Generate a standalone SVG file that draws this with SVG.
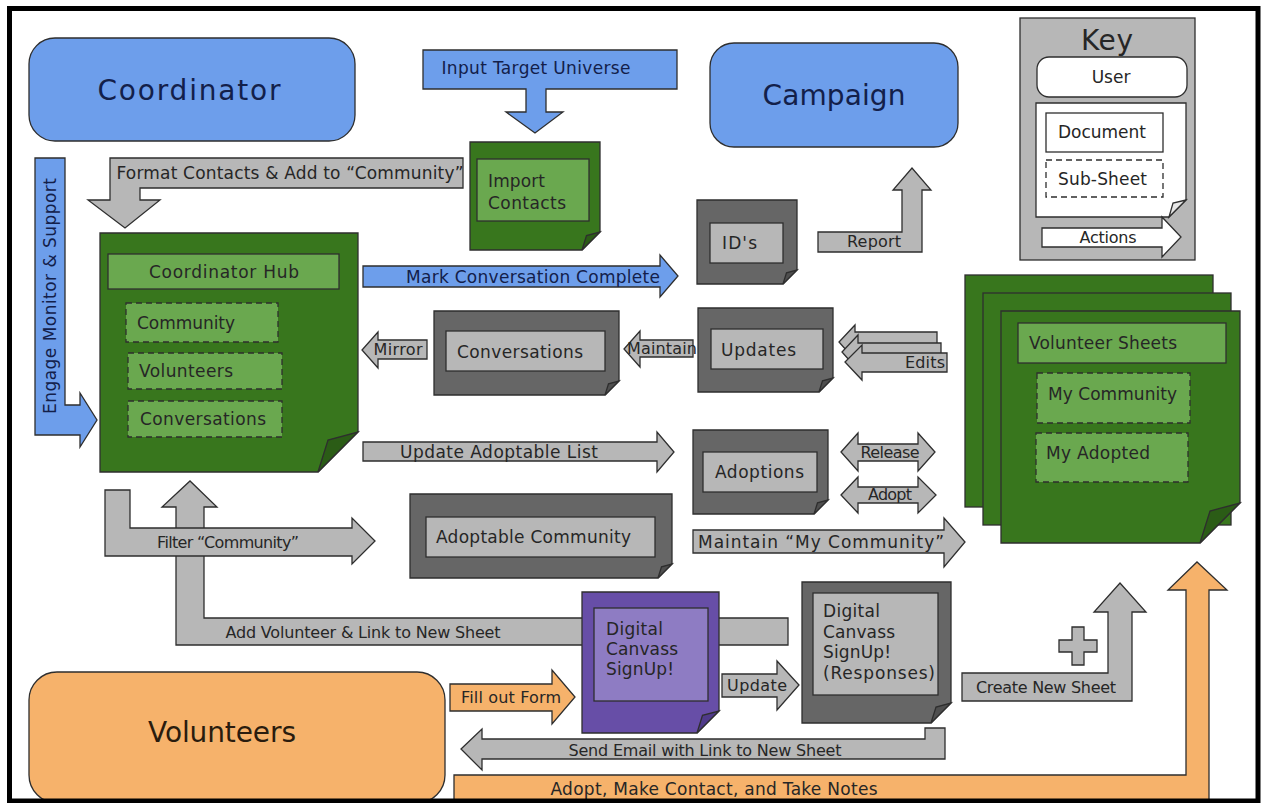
<svg xmlns="http://www.w3.org/2000/svg" width="1265" height="803" viewBox="0 0 1265 803">
  <style>
    .t { font-family: "DejaVu Sans", "Open Sans", sans-serif; fill: #262626; }
    .nv { fill: #13204a; }
    .big { font-size: 28px; }
    .lb { font-size: 17px; }
    .ar { font-size: 17px; }
    .sm { font-size: 16px; }
    .ln { stroke: #2e2e2e; stroke-width: 1.3; stroke-linejoin: miter; }
    .blue { fill: #6d9eeb; }
    .grey { fill: #b7b7b7; }
    .orange { fill: #f6b26b; }
    .dgrey { fill: #666666; }
    .fgrey { fill: #4f4f4f; }
    .dgreen { fill: #38761d; }
    .fgreen { fill: #2b5c16; }
    .lgreen { fill: #6aa84f; }
    .purple { fill: #674ea7; }
    .fpurple { fill: #4f3a8a; }
    .lpurple { fill: #8e7cc3; }
    .dash { stroke-dasharray: 6 4; }
  </style>

  <rect x="0" y="0" width="1265" height="803" fill="#ffffff"/>

  <!-- connectors (block arrows) -->
  <g id="connectors">
    <!-- Input Target Universe -->
    <g id="arrow-input-target">
      <polygon class="blue ln" points="423,50 677,50 677,89 546,89 546,112 563,112 535,133 506,112 526,112 526,89 423,89"/>
      <text class="t nv ar" x="536" y="74" text-anchor="middle" textLength="189">Input Target Universe</text>
    </g>
    <!-- Format Contacts -->
    <g id="arrow-format-contacts">
      <polygon class="grey ln" points="463,158 463,188 140,188 140,200 160,200 125,228 88,200 110,200 110,158"/>
      <text class="t ar" x="290" y="179" text-anchor="middle" textLength="347">Format Contacts  &amp; Add to “Community”</text>
    </g>
    <!-- Engage Monitor & Support -->
    <g id="arrow-engage">
      <polygon class="blue ln" points="35,158 65,158 65,405 80,405 80,393 97,420 80,447 80,435 35,435"/>
      <text class="t nv ar" transform="translate(56,296) rotate(-90)" text-anchor="middle" textLength="236">Engage Monitor &amp; Support</text>
    </g>
    <!-- Mark Conversation Complete -->
    <g id="arrow-mark-complete">
      <polygon class="blue ln" points="363,266 660,266 660,255 678,276 660,297 660,287 363,287"/>
      <text class="t nv lb" x="533" y="283" text-anchor="middle" textLength="254">Mark Conversation Complete</text>
    </g>
    <!-- Report -->
    <g id="arrow-report">
      <polygon class="grey ln" points="818,232 902,232 902,190 893,190 912,168 931,190 922,190 922,252 818,252"/>
      <text class="t sm" x="874" y="247" text-anchor="middle" textLength="54">Report</text>
    </g>
    <!-- Mirror -->
    <g id="arrow-mirror">
      <polygon class="grey ln" points="427,340 378,340 378,332 362,350 378,368 378,359 427,359"/>
      <text class="t sm" x="398" y="355" text-anchor="middle" textLength="49">Mirror</text>
    </g>
    <!-- Maintain -->
    <g id="arrow-maintain">
      <polygon class="grey ln" points="693,340 640,340 640,331 624,349 640,367 640,357 693,357"/>
      <text class="t sm" x="662" y="354" text-anchor="middle" textLength="70">Maintain</text>
    </g>
    <!-- Edits (stacked) -->
    <g id="arrow-edits">
      <polygon class="grey ln" points="937,332 855,332 855,325 839,342 855,360 855,351 937,351"/>
      <polygon class="grey ln" points="941,343 858,343 858,335 842,352 858,370 858,362 941,362"/>
      <polygon class="grey ln" points="947,353 862,353 862,345 845,362 862,380 862,372 947,372"/>
      <text class="t sm" x="925" y="368" text-anchor="middle" textLength="40">Edits</text>
    </g>
    <!-- Update Adoptable List -->
    <g id="arrow-update-adoptable">
      <polygon class="grey ln" points="363,442 657,442 657,432 674,452 657,472 657,461 363,461"/>
      <text class="t lb" x="499" y="458" text-anchor="middle" textLength="198">Update Adoptable List</text>
    </g>
    <!-- Release -->
    <g id="arrow-release">
      <polygon class="grey ln" points="841,452 858,433 858,444 918,444 918,433 935,452 918,471 918,461 858,461 858,471"/>
      <text class="t sm" x="890" y="458" text-anchor="middle" textLength="59">Release</text>
    </g>
    <!-- Adopt -->
    <g id="arrow-adopt">
      <polygon class="grey ln" points="841,495 858,477 858,487 918,487 918,477 936,495 918,513 918,503 858,503 858,513"/>
      <text class="t sm" x="890" y="500" text-anchor="middle" textLength="44">Adopt</text>
    </g>
    <!-- Maintain "My Community" -->
    <g id="arrow-maintain-my-community">
      <polygon class="grey ln" points="693,530 944,530 944,518 965,542 944,567 944,553 693,553"/>
      <text class="t ar" x="821" y="548" text-anchor="middle" textLength="246">Maintain “My Community”</text>
    </g>
    <!-- Add Volunteer & Link to New Sheet -->
    <g id="arrow-add-volunteer">
      <polygon class="grey ln" points="176,645 176,507 162,507 190,481 217,507 204,507 204,618 788,618 788,645"/>
      <text class="t sm" x="363" y="638" text-anchor="middle" textLength="275">Add Volunteer &amp; Link to New Sheet</text>
    </g>
    <!-- Filter "Community" -->
    <g id="arrow-filter">
      <polygon class="grey ln" points="105,490 130,490 130,528 352,528 352,518 375,541 352,564 352,556 105,556"/>
      <text class="t sm" x="228" y="548" text-anchor="middle" textLength="142">Filter “Community”</text>
    </g>
    <!-- Fill out Form -->
    <g id="arrow-fill-form">
      <polygon class="orange ln" points="450,684 552,684 552,670 575,697 552,724 552,711 450,711"/>
      <text class="t sm" x="511" y="703" text-anchor="middle" textLength="100">Fill out Form</text>
    </g>
    <!-- Update -->
    <g id="arrow-update">
      <polygon class="grey ln" points="722,674 777,674 777,661 799,685 777,710 777,697 722,697"/>
      <text class="t sm" x="757" y="691" text-anchor="middle" textLength="60">Update</text>
    </g>
    <!-- Create New Sheet -->
    <g id="arrow-create-sheet">
      <polygon class="grey ln" points="962,673 1108,673 1108,612 1094,612 1120,583 1146,612 1132,612 1132,701 962,701"/>
      <polygon class="grey ln" points="1072,627 1084,627 1084,640 1097,640 1097,652 1084,652 1084,665 1072,665 1072,652 1059,652 1059,640 1072,640"/>
      <text class="t sm" x="1046" y="693" text-anchor="middle" textLength="140">Create New Sheet</text>
    </g>
    <!-- Send Email with Link to New Sheet -->
    <g id="arrow-send-email">
      <polygon class="grey ln" points="945,728 945,759 482,759 482,770 461,749 482,729 482,739 925,739 925,728"/>
      <text class="t sm" x="705" y="756" text-anchor="middle" textLength="273">Send Email with Link to New Sheet</text>
    </g>
    <!-- Adopt, Make Contact, and Take Notes -->
    <g id="arrow-adopt-contact">
      <polygon class="orange ln" points="454,775 1186,775 1186,590 1168,590 1197,562 1227,590 1209,590 1209,801 454,801"/>
      <text class="t ar" x="714" y="795" text-anchor="middle" textLength="327">Adopt, Make Contact, and Take Notes</text>
    </g>
  </g>

  <!-- users -->
  <g id="coordinator">
    <rect class="blue ln" x="29" y="38" width="326" height="103" rx="26"/>
    <text class="t nv big" x="189" y="100" text-anchor="middle" textLength="183">Coordinator</text>
  </g>
  <g id="campaign">
    <rect class="blue ln" x="710" y="43" width="248" height="104" rx="24"/>
    <text class="t nv big" x="834" y="105" text-anchor="middle" textLength="143">Campaign</text>
  </g>
  <g id="volunteers">
    <rect class="orange ln" x="29" y="672" width="416" height="131" rx="28"/>
    <text class="t big" x="222" y="742" text-anchor="middle" textLength="148" style="fill:#2a1c0e">Volunteers</text>
  </g>

  <!-- documents -->
  <g id="coordinator-hub">
    <polygon class="dgreen ln" points="100,233 358,233 358,432 318,472 100,472"/>
    <polygon class="fgreen ln" points="358,432 318,472 328,440"/>
    <rect class="lgreen ln" x="108" y="254" width="231" height="35"/>
    <text class="t lb" x="224" y="278" text-anchor="middle" textLength="150">Coordinator Hub</text>
    <rect class="lgreen ln dash" x="126" y="303" width="152" height="39"/>
    <text class="t lb" x="137" y="329" textLength="98">Community</text>
    <rect class="lgreen ln dash" x="128" y="353" width="154" height="36"/>
    <text class="t lb" x="139" y="377" textLength="94">Volunteers</text>
    <rect class="lgreen ln dash" x="128" y="401" width="154" height="36"/>
    <text class="t lb" x="140" y="425" textLength="126">Conversations</text>
  </g>

  <g id="import-contacts">
    <polygon class="dgreen ln" points="470,142 600,142 600,232 582,250 470,250"/>
    <polygon class="fgreen ln" points="600,232 582,250 586.5,235.6"/>
    <rect class="lgreen ln" x="477" y="159" width="112" height="62"/>
    <text class="t lb" x="488" y="187" textLength="57">Import</text>
    <text class="t lb" x="488" y="209" textLength="78">Contacts</text>
  </g>

  <g id="ids">
    <polygon class="dgrey ln" points="697,200 797,200 797,270 783,284 697,284"/>
    <polygon class="fgrey ln" points="797,270 783,284 786.5,272.8"/>
    <rect class="grey ln" x="710" y="223" width="73" height="40"/>
    <text class="t lb" x="722" y="249" textLength="35">ID's</text>
  </g>

  <g id="conversations">
    <polygon class="dgrey ln" points="434,311 619,311 619,381 605,395 434,395"/>
    <polygon class="fgrey ln" points="619,381 605,395 608.5,383.8"/>
    <rect class="grey ln" x="446" y="331" width="159" height="40"/>
    <text class="t lb" x="457" y="358" textLength="126">Conversations</text>
  </g>

  <g id="updates">
    <polygon class="dgrey ln" points="698,308 833,308 833,378 819,392 698,392"/>
    <polygon class="fgrey ln" points="833,378 819,392 822.5,380.8"/>
    <rect class="grey ln" x="711" y="329" width="112" height="40"/>
    <text class="t lb" x="721" y="356" textLength="75">Updates</text>
  </g>

  <g id="adoptions">
    <polygon class="dgrey ln" points="693,430 828,430 828,500 814,514 693,514"/>
    <polygon class="fgrey ln" points="828,500 814,514 817.5,502.8"/>
    <rect class="grey ln" x="703" y="452" width="114" height="40"/>
    <text class="t lb" x="715" y="478" textLength="89">Adoptions</text>
  </g>

  <g id="adoptable-community">
    <polygon class="dgrey ln" points="410,494 672,494 672,564 658,578 410,578"/>
    <polygon class="fgrey ln" points="672,564 658,578 661.5,566.8"/>
    <rect class="grey ln" x="426" y="517" width="229" height="40"/>
    <text class="t lb" x="436" y="543" textLength="195">Adoptable Community</text>
  </g>

  <g id="signup-form">
    <polygon class="purple ln" points="582,592 719,592 719,711 697,733 582,733"/>
    <polygon class="fpurple ln" points="719,711 697,733 702.5,715.4"/>
    <rect class="lpurple ln" x="594" y="608" width="114" height="93"/>
    <text class="t lb" x="606" y="635" textLength="57">Digital</text>
    <text class="t lb" x="606" y="655" textLength="72">Canvass</text>
    <text class="t lb" x="606" y="675" textLength="68">SignUp!</text>
  </g>

  <g id="signup-responses">
    <polygon class="dgrey ln" points="802,582 951,582 951,703 931,723 802,723"/>
    <polygon class="fgrey ln" points="951,703 931,723 936,707"/>
    <rect class="grey ln" x="813" y="593" width="125" height="102"/>
    <text class="t lb" x="823" y="617" textLength="57">Digital</text>
    <text class="t lb" x="823" y="638" textLength="72">Canvass</text>
    <text class="t lb" x="823" y="658" textLength="68">SignUp!</text>
    <text class="t lb" x="823" y="679" textLength="112">(Responses)</text>
  </g>

  <g id="volunteer-sheets">
    <rect class="dgreen ln" x="965" y="275" width="248" height="232"/>
    <rect class="dgreen ln" x="983" y="293" width="248" height="232"/>
    <polygon class="dgreen ln" points="1001,311 1240,311 1240,503 1200,543 1001,543"/>
    <polygon class="fgreen ln" points="1240,503 1200,543 1210,511"/>
    <rect class="lgreen ln" x="1018" y="323" width="208" height="40"/>
    <text class="t lb" x="1029" y="349" textLength="148">Volunteer Sheets</text>
    <rect class="lgreen ln dash" x="1037" y="373" width="153" height="50"/>
    <text class="t lb" x="1048" y="400" textLength="129">My Community</text>
    <rect class="lgreen ln dash" x="1036" y="433" width="152" height="49"/>
    <text class="t lb" x="1046" y="459" textLength="104">My Adopted</text>
  </g>

  <!-- legend -->
  <g id="key">
    <rect class="grey ln" x="1020" y="18" width="175" height="242"/>
    <text class="t" x="1107" y="50" text-anchor="middle" font-size="28" textLength="52">Key</text>
    <rect class="ln" x="1037" y="57" width="150" height="40" rx="12" fill="#ffffff"/>
    <text class="t lb" x="1111" y="83" text-anchor="middle">User</text>
    <polygon class="ln" points="1036,103 1186,103 1186,200 1169,217 1036,217" fill="#ffffff"/>
    <polygon class="ln" points="1186,200 1169,217 1173,203" fill="#e6e6e6"/>
    <rect class="ln" x="1046" y="113" width="117" height="39" fill="#ffffff"/>
    <text class="t lb" x="1058" y="138" textLength="88">Document</text>
    <rect class="ln dash" x="1046" y="160" width="117" height="37" fill="#ffffff"/>
    <text class="t lb" x="1058" y="185" textLength="89">Sub-Sheet</text>
    <polygon class="ln" points="1042,228 1162,228 1162,217 1181,237 1162,257 1162,247 1042,247" fill="#ffffff"/>
    <text class="t sm" x="1108" y="243" text-anchor="middle" textLength="57">Actions</text>
  </g>

  <!-- outer frame -->
  <rect x="9.5" y="8.5" width="1248.5" height="792.5" fill="none" stroke="#000000" stroke-width="5"/>
</svg>
